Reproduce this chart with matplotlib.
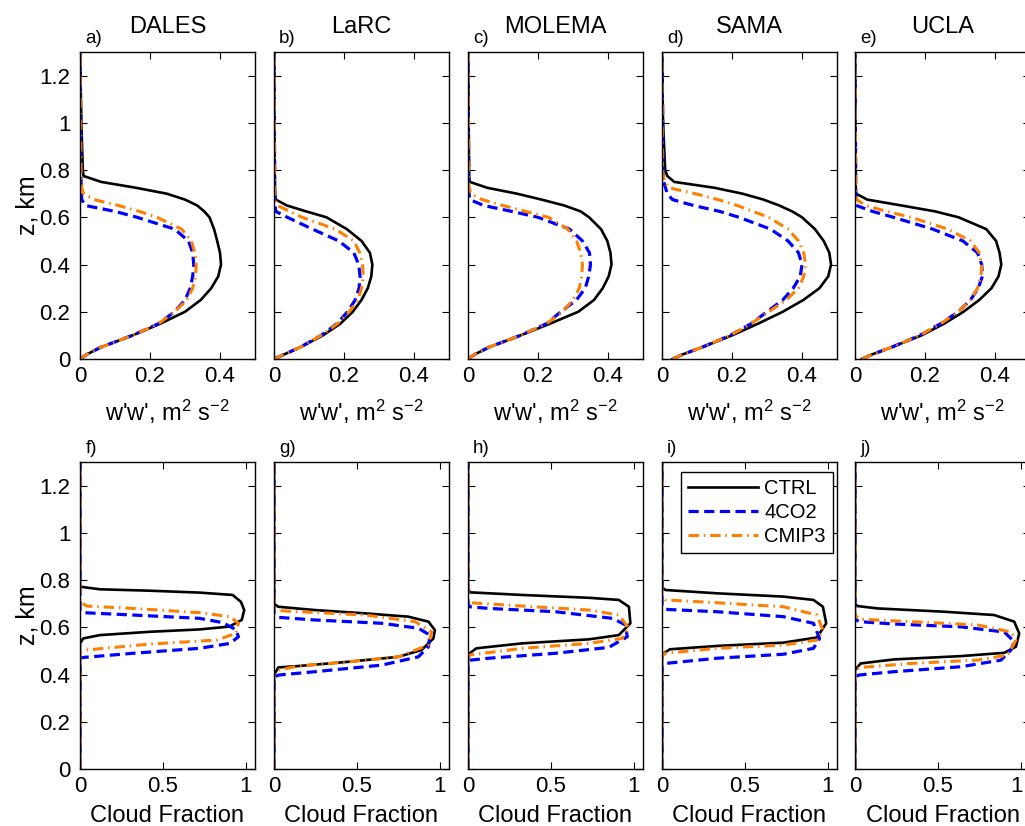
import matplotlib
matplotlib.use("Agg")
import matplotlib.pyplot as plt
import matplotlib.transforms as mtransforms

plt.rcParams['font.family'] = ['Liberation Sans', 'DejaVu Sans']
plt.rcParams['mathtext.fontset'] = 'custom'
plt.rcParams['mathtext.rm'] = 'Liberation Sans'
plt.rcParams['mathtext.it'] = 'Liberation Sans:italic'

# ---------------- data ----------------
MODELS = ["DALES", "LaRC", "MOLEMA", "SAMA", "UCLA"]
TOP_LABELS = ["a)", "b)", "c)", "d)", "e)"]
BOT_LABELS = ["f)", "g)", "h)", "i)", "j)"]
SERIES = ["CTRL", "4CO2", "CMIP3"]

Z_TICKS = [0, 0.2, 0.4, 0.6, 0.8, 1.0, 1.2]
Z_TICKLABELS = ["0", "0.2", "0.4", "0.6", "0.8", "1", "1.2"]
W_TICKS = [0, 0.2, 0.4]
W_TICKLABELS = ["0", "0.2", "0.4"]
CF_TICKS = [0, 0.5, 1]
CF_TICKLABELS = ["0", "0.5", "1"]

# vertical velocity variance w'w' (m2 s-2) on common heights (km)
Z_W = [0, 0.02, 0.05, 0.1, 0.15, 0.2, 0.25, 0.3, 0.35, 0.4, 0.45, 0.5, 0.55,
       0.6, 0.625, 0.65, 0.675, 0.7, 0.725, 0.75, 0.775, 0.8, 1.0, 1.3]

WW_DALES_CTRL = [0.0, 0.02, 0.06, 0.15, 0.23, 0.30, 0.345, 0.375, 0.395, 0.403, 0.40, 0.392,
                 0.383, 0.37, 0.355, 0.335, 0.30, 0.248, 0.16, 0.06, 0.01, 0.008, 0.004, 0.0]
WW_DALES_4CO2 = [0.0, 0.02, 0.06, 0.15, 0.225, 0.27, 0.30, 0.315, 0.322, 0.325, 0.322, 0.31,
                 0.27, 0.163, 0.10, 0.015, 0.005, 0.004, 0.004, 0.003, 0.003, 0.003, 0.002, 0.0]
WW_DALES_CMIP3 = [0.0, 0.02, 0.06, 0.15, 0.225, 0.27, 0.305, 0.322, 0.33, 0.332, 0.328, 0.318,
                  0.29, 0.22, 0.17, 0.11, 0.04, 0.01, 0.005, 0.004, 0.003, 0.003, 0.002, 0.0]

WW_LARC_CTRL = [0.0, 0.03, 0.075, 0.14, 0.19, 0.225, 0.25, 0.268, 0.278, 0.281, 0.274, 0.25,
                0.208, 0.15, 0.092, 0.037, 0.005, 0.003, 0.003, 0.002, 0.002, 0.002, 0.001, 0.0]
WW_LARC_4CO2 = [0.0, 0.03, 0.075, 0.135, 0.18, 0.21, 0.232, 0.243, 0.246, 0.242, 0.228, 0.185,
                0.11, 0.038, 0.005, 0.003, 0.003, 0.002, 0.002, 0.002, 0.002, 0.002, 0.001, 0.0]
WW_LARC_CMIP3 = [0.0, 0.03, 0.075, 0.135, 0.182, 0.215, 0.24, 0.25, 0.255, 0.253, 0.245, 0.228,
                 0.175, 0.08, 0.045, 0.01, 0.003, 0.002, 0.002, 0.002, 0.002, 0.002, 0.001, 0.0]

WW_MOLEMA_CTRL = [0.0, 0.02, 0.06, 0.15, 0.235, 0.315, 0.36, 0.385, 0.402, 0.41, 0.407, 0.398,
                  0.38, 0.346, 0.322, 0.275, 0.21, 0.14, 0.055, 0.005, 0.003, 0.003, 0.002, 0.0]
WW_MOLEMA_4CO2 = [0.0, 0.02, 0.06, 0.15, 0.225, 0.265, 0.31, 0.335, 0.345, 0.35, 0.347, 0.327,
                  0.29, 0.2, 0.125, 0.045, 0.005, 0.003, 0.003, 0.002, 0.002, 0.002, 0.001, 0.0]
WW_MOLEMA_CMIP3 = [0.0, 0.02, 0.06, 0.15, 0.225, 0.27, 0.30, 0.318, 0.325, 0.327, 0.322, 0.31,
                   0.285, 0.23, 0.165, 0.10, 0.04, 0.008, 0.003, 0.002, 0.002, 0.002, 0.001, 0.0]

WW_SAMA_CTRL = [0.03, 0.06, 0.115, 0.20, 0.275, 0.345, 0.404, 0.45, 0.475, 0.483, 0.478, 0.462,
                0.437, 0.40, 0.372, 0.335, 0.29, 0.23, 0.15, 0.035, 0.015, 0.009, 0.003, 0.0]
WW_SAMA_4CO2 = [0.03, 0.06, 0.115, 0.195, 0.255, 0.30, 0.345, 0.375, 0.395, 0.40, 0.39, 0.36,
                0.31, 0.22, 0.165, 0.09, 0.03, 0.015, 0.01, 0.005, 0.003, 0.003, 0.002, 0.0]
WW_SAMA_CMIP3 = [0.03, 0.06, 0.115, 0.195, 0.255, 0.305, 0.355, 0.39, 0.405, 0.41, 0.405, 0.39,
                 0.36, 0.305, 0.26, 0.215, 0.16, 0.095, 0.02, 0.008, 0.003, 0.002, 0.001, 0.0]

WW_UCLA_CTRL = [0.02, 0.05, 0.105, 0.19, 0.255, 0.31, 0.355, 0.39, 0.41, 0.418, 0.413, 0.403,
                0.375, 0.296, 0.229, 0.133, 0.035, 0.003, 0.002, 0.002, 0.002, 0.002, 0.001, 0.0]
WW_UCLA_4CO2 = [0.02, 0.05, 0.105, 0.185, 0.245, 0.295, 0.33, 0.352, 0.364, 0.362, 0.35, 0.308,
                0.222, 0.11, 0.05, 0.004, 0.003, 0.002, 0.002, 0.002, 0.002, 0.002, 0.001, 0.0]
WW_UCLA_CMIP3 = [0.02, 0.05, 0.105, 0.185, 0.245, 0.295, 0.33, 0.35, 0.36, 0.362, 0.355, 0.33,
                 0.265, 0.16, 0.09, 0.03, 0.005, 0.003, 0.002, 0.002, 0.002, 0.002, 0.001, 0.0]

# cloud fraction profiles traced as (height km, fraction) per series
CF_DALES_CTRL_Z = [0, 0.532, 0.553, 0.567, 0.581, 0.591, 0.603, 0.631, 0.673, 0.708, 0.737, 0.747, 0.755, 0.761, 0.772, 1.3]
CF_DALES_CTRL = [0, 0, 0.02, 0.12, 0.42, 0.72, 0.90, 0.975, 0.99, 0.97, 0.92, 0.72, 0.42, 0.12, 0.0, 0.0]
CF_DALES_4CO2_Z = [0, 0.47, 0.473, 0.49, 0.511, 0.532, 0.56, 0.59, 0.62, 0.638, 0.652, 0.662, 0.668, 1.3]
CF_DALES_4CO2 = [0, 0, 0.03, 0.32, 0.72, 0.905, 0.955, 0.94, 0.86, 0.72, 0.32, 0.02, 0, 0]
CF_DALES_CMIP3_Z = [0, 0.495, 0.504, 0.529, 0.546, 0.574, 0.617, 0.645, 0.662, 0.68, 0.69, 0.71, 1.3]
CF_DALES_CMIP3 = [0, 0, 0.04, 0.42, 0.825, 0.94, 0.955, 0.905, 0.72, 0.32, 0.04, 0, 0]

CF_LARC_CTRL_Z = [0, 0.398, 0.43, 0.436, 0.454, 0.475, 0.504, 0.553, 0.588, 0.624, 0.645, 0.659, 0.673, 0.687, 0.70, 1.3]
CF_LARC_CTRL = [0, 0, 0.026, 0.147, 0.448, 0.75, 0.89, 0.961, 0.97, 0.931, 0.81, 0.55, 0.247, 0.026, 0, 0]
CF_LARC_4CO2_Z = [0, 0.39, 0.398, 0.412, 0.44, 0.475, 0.518, 0.567, 0.596, 0.617, 0.631, 0.642, 0.655, 1.3]
CF_LARC_4CO2 = [0, 0, 0.03, 0.247, 0.65, 0.87, 0.931, 0.94, 0.87, 0.65, 0.247, 0.03, 0, 0]
CF_LARC_CMIP3_Z = [0, 0.41, 0.418, 0.436, 0.454, 0.475, 0.525, 0.58, 0.624, 0.652, 0.67, 0.685, 1.3]
CF_LARC_CMIP3 = [0, 0, 0.02, 0.15, 0.45, 0.75, 0.93, 0.95, 0.85, 0.55, 0.045, 0, 0]

CF_MOLEMA_CTRL_Z = [0, 0.461, 0.49, 0.511, 0.532, 0.549, 0.567, 0.617, 0.687, 0.716, 0.725, 0.737, 0.748, 0.76, 1.3]
CF_MOLEMA_CTRL = [0, 0, 0.01, 0.05, 0.326, 0.728, 0.909, 0.979, 0.97, 0.909, 0.728, 0.326, 0.014, 0, 0]
CF_MOLEMA_4CO2_Z = [0, 0.455, 0.461, 0.469, 0.49, 0.515, 0.56, 0.61, 0.638, 0.666, 0.68, 0.687, 0.70, 1.3]
CF_MOLEMA_4CO2 = [0, 0, 0.014, 0.124, 0.527, 0.849, 0.96, 0.95, 0.87, 0.527, 0.124, 0.01, 0, 0]
CF_MOLEMA_CMIP3_Z = [0, 0.475, 0.483, 0.511, 0.532, 0.553, 0.596, 0.652, 0.673, 0.69, 0.704, 0.715, 1.3]
CF_MOLEMA_CMIP3 = [0, 0, 0.014, 0.326, 0.728, 0.929, 0.97, 0.909, 0.728, 0.326, 0.014, 0, 0]

CF_SAMA_CTRL_Z = [0, 0.469, 0.49, 0.507, 0.521, 0.535, 0.557, 0.617, 0.687, 0.716, 0.73, 0.744, 0.758, 0.77, 1.3]
CF_SAMA_CTRL = [0, 0, 0.01, 0.048, 0.33, 0.732, 0.934, 0.99, 0.97, 0.913, 0.732, 0.33, 0.02, 0, 0]
CF_SAMA_4CO2_Z = [0, 0.44, 0.447, 0.469, 0.486, 0.511, 0.553, 0.617, 0.645, 0.666, 0.676, 0.69, 1.3]
CF_SAMA_4CO2 = [0, 0, 0.02, 0.33, 0.732, 0.913, 0.95, 0.913, 0.732, 0.33, 0.02, 0, 0]
CF_SAMA_CMIP3_Z = [0, 0.48, 0.49, 0.511, 0.525, 0.546, 0.588, 0.652, 0.687, 0.704, 0.716, 0.73, 1.3]
CF_SAMA_CMIP3 = [0, 0, 0.02, 0.33, 0.732, 0.934, 0.97, 0.934, 0.732, 0.33, 0.02, 0, 0]

CF_UCLA_CTRL_Z = [0, 0.419, 0.447, 0.464, 0.478, 0.492, 0.518, 0.574, 0.624, 0.652, 0.666, 0.68, 0.69, 0.70, 1.3]
CF_UCLA_CTRL = [0, 0, 0.034, 0.235, 0.638, 0.9, 0.97, 0.99, 0.96, 0.839, 0.537, 0.135, 0.015, 0, 0]
CF_UCLA_4CO2_Z = [0, 0.39, 0.398, 0.412, 0.433, 0.461, 0.504, 0.539, 0.58, 0.602, 0.614, 0.624, 0.635, 1.3]
CF_UCLA_4CO2 = [0, 0, 0.024, 0.235, 0.638, 0.88, 0.94, 0.96, 0.9, 0.638, 0.235, 0.024, 0, 0]
CF_UCLA_CMIP3_Z = [0, 0.42, 0.43, 0.447, 0.461, 0.482, 0.546, 0.58, 0.61, 0.624, 0.634, 0.65, 1.3]
CF_UCLA_CMIP3 = [0, 0, 0.034, 0.336, 0.738, 0.92, 0.97, 0.94, 0.738, 0.336, 0.034, 0, 0]

WW = [
    (WW_DALES_CTRL, WW_DALES_4CO2, WW_DALES_CMIP3),
    (WW_LARC_CTRL, WW_LARC_4CO2, WW_LARC_CMIP3),
    (WW_MOLEMA_CTRL, WW_MOLEMA_4CO2, WW_MOLEMA_CMIP3),
    (WW_SAMA_CTRL, WW_SAMA_4CO2, WW_SAMA_CMIP3),
    (WW_UCLA_CTRL, WW_UCLA_4CO2, WW_UCLA_CMIP3),
]
CF = [
    ((CF_DALES_CTRL_Z, CF_DALES_CTRL), (CF_DALES_4CO2_Z, CF_DALES_4CO2), (CF_DALES_CMIP3_Z, CF_DALES_CMIP3)),
    ((CF_LARC_CTRL_Z, CF_LARC_CTRL), (CF_LARC_4CO2_Z, CF_LARC_4CO2), (CF_LARC_CMIP3_Z, CF_LARC_CMIP3)),
    ((CF_MOLEMA_CTRL_Z, CF_MOLEMA_CTRL), (CF_MOLEMA_4CO2_Z, CF_MOLEMA_4CO2), (CF_MOLEMA_CMIP3_Z, CF_MOLEMA_CMIP3)),
    ((CF_SAMA_CTRL_Z, CF_SAMA_CTRL), (CF_SAMA_4CO2_Z, CF_SAMA_4CO2), (CF_SAMA_CMIP3_Z, CF_SAMA_CMIP3)),
    ((CF_UCLA_CTRL_Z, CF_UCLA_CTRL), (CF_UCLA_4CO2_Z, CF_UCLA_4CO2), (CF_UCLA_CMIP3_Z, CF_UCLA_CMIP3)),
]

# ---------------- styles ----------------
STYLES = [
    dict(color='black', lw=1.9, ls='-'),
    dict(color='#0000ff', lw=2.3, ls=(0, (3.2, 1.7))),
    dict(color='#ff7f00', lw=2.2, ls=(0, (3.4, 1.6, 0.5, 1.6))),
]

W, H = 1025, 826
fig = plt.figure(figsize=(W / 100, H / 100), dpi=100)

LEFTS = [80, 274, 468, 662, 855]
AX_W = 175
AX_H = 307
TOP_ROW_TOP = 52
BOT_ROW_TOP = 462

TICK_FS = 16
LABEL_FS = 17


def make_ax(left, top):
    ax = fig.add_axes([left / W, (H - top - AX_H) / H, AX_W / W, AX_H / H])
    ax.tick_params(direction='in', top=True, right=True, length=5, width=0.8,
                   labelsize=TICK_FS, pad=5)
    ax.tick_params(axis='y', pad=7)
    for s in ax.spines.values():
        s.set_linewidth(1.0)
    ax.set_ylim(0, 1.3)
    ax.set_yticks(Z_TICKS)
    return ax


for i, model in enumerate(MODELS):
    # top row: w'w'
    ax = make_ax(LEFTS[i], TOP_ROW_TOP)
    for vals, st, name in zip(WW[i], STYLES, SERIES):
        ax.plot(vals, Z_W, color=st['color'], lw=st['lw'], linestyle=st['ls'], label=name)
    ax.set_xlim(0, 0.5)
    ax.set_xticks(W_TICKS)
    ax.set_xticklabels(W_TICKLABELS)
    ax.set_xlabel("w'w', m$^2$ s$^{-2}$", fontsize=LABEL_FS, labelpad=8)
    ax.set_title(model, fontsize=LABEL_FS, pad=14)
    ax.text(0.03, 1.03, TOP_LABELS[i], transform=ax.transAxes, fontsize=13.5,
            ha='left', va='baseline')
    if i == 0:
        ax.set_yticklabels(Z_TICKLABELS)
        ax.set_ylabel("z, km", fontsize=18, labelpad=0)
    else:
        ax.set_yticklabels([])

    # bottom row: cloud fraction
    ax2 = make_ax(LEFTS[i], BOT_ROW_TOP)
    for (zz, vals), st, name in zip(CF[i], STYLES, SERIES):
        ax2.plot(vals, zz, color=st['color'], lw=st['lw'], linestyle=st['ls'], label=name)
    ax2.set_xlim(0, 1.055)
    ax2.set_xticks(CF_TICKS)
    ax2.set_xticklabels(CF_TICKLABELS)
    if i == len(MODELS) - 1:
        # the last tick label sits at the figure edge: nudge it inside
        lab = ax2.get_xticklabels()[-1]
        lab.set_transform(lab.get_transform() +
                          mtransforms.ScaledTranslation(-4 / 100, 0, fig.dpi_scale_trans))
    ax2.set_xlabel("Cloud Fraction", fontsize=LABEL_FS, labelpad=6)
    ax2.text(0.03, 1.03, BOT_LABELS[i], transform=ax2.transAxes, fontsize=13.5,
             ha='left', va='baseline')
    if i == 0:
        ax2.set_yticklabels(Z_TICKLABELS)
        ax2.set_ylabel("z, km", fontsize=18, labelpad=0)
    else:
        ax2.set_yticklabels([])
    if i == 3:
        leg = ax2.legend(loc='upper right', bbox_to_anchor=(0.977, 0.967),
                         borderaxespad=0, fontsize=14.5, handlelength=3.5,
                         handletextpad=0.3, labelspacing=0.25, borderpad=0.35,
                         fancybox=False, framealpha=1, edgecolor='black')
        leg.get_frame().set_linewidth(1.0)

fig.savefig("out.png", dpi=100)
